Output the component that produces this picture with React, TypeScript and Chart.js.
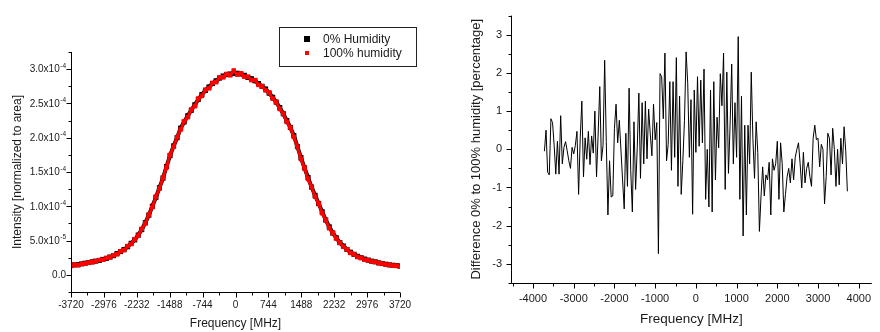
import React, { useEffect, useRef } from 'react';
import { Chart, registerables } from 'chart.js';

Chart.register(...registerables);

// ---------- DATA ----------
// Left chart: intensity (units of 1e-4) vs frequency
const intensityFreqStart = -3720;
const intensityFreqStep = 80;
const intensityDry = [
  0.14, 0.145, 0.15, 0.16, 0.17, 0.18, 0.19, 0.2, 0.21, 0.225,
  0.24, 0.26, 0.28, 0.31, 0.34, 0.37, 0.41, 0.46, 0.51, 0.58,
  0.66, 0.76, 0.87, 1.0, 1.13, 1.27, 1.41, 1.58, 1.74, 1.88,
  2.0, 2.14, 2.23, 2.32, 2.4, 2.48, 2.56, 2.63, 2.69, 2.74,
  2.79, 2.83, 2.87, 2.9, 2.92, 2.93, 2.94, 2.94, 2.93, 2.91,
  2.88, 2.86, 2.83, 2.79, 2.75, 2.71, 2.65, 2.59, 2.52, 2.44,
  2.35, 2.25, 2.15, 2.03, 1.87, 1.71, 1.56, 1.42, 1.28, 1.16,
  1.04, 0.92, 0.8, 0.7, 0.61, 0.54, 0.47, 0.42, 0.37, 0.33,
  0.3, 0.27, 0.25, 0.23, 0.215, 0.2, 0.19, 0.175, 0.165, 0.155,
  0.145, 0.14, 0.135, 0.13,
];
const intensityHumid = [
  0.13, 0.15, 0.14, 0.16, 0.165, 0.18, 0.185, 0.2, 0.215, 0.22,
  0.245, 0.255, 0.285, 0.3, 0.345, 0.36, 0.42, 0.45, 0.52, 0.57,
  0.67, 0.75, 0.88, 0.99, 1.14, 1.26, 1.42, 1.57, 1.75, 1.87,
  2.01, 2.12, 2.24, 2.3, 2.41, 2.46, 2.57, 2.61, 2.7, 2.72,
  2.8, 2.81, 2.88, 2.88, 2.93, 2.91, 2.98, 2.92, 2.94, 2.89,
  2.89, 2.84, 2.84, 2.77, 2.75, 2.69, 2.66, 2.57, 2.52, 2.42,
  2.35, 2.23, 2.15, 2.01, 1.87, 1.69, 1.56, 1.4, 1.28, 1.14,
  1.04, 0.9, 0.8, 0.68, 0.61, 0.53, 0.47, 0.41, 0.37, 0.32,
  0.3, 0.26, 0.25, 0.22, 0.215, 0.195, 0.19, 0.17, 0.165, 0.15,
  0.145, 0.135, 0.135, 0.12,
];
const intensityFreqTicks = [-3720, -2976, -2232, -1488, -744, 0, 744, 1488, 2232, 2976, 3720];
const intensityTicks = [0, 0.5, 1.0, 1.5, 2.0, 2.5, 3.0];

// Right chart: difference (%) vs frequency
const diffFreqStart = -3720;
const diffFreqStep = 40;
const diffValues = [
  -0.05, 0.5, -0.6, -0.67, 0.8, 0.7, 0.1, -0.65, 0.21, -0.65,
  0.88, -0.38, 0.05, 0.2, -0.04, -0.3, -0.5, 0.05, -0.12, 0.1,
  0.47, -1.18, 0.3, 1.26, -0.72, 0.3, -0.26, 0.47, -0.4, 0.35,
  -0.1, 1.0, -0.72, 0.4, 1.64, -0.3, 0.1, 2.33, 0.2, -1.72,
  -0.3, -1.25, -1.22, 0.55, 1.18, 0.17, 0.76, -0.02, -0.8, -1.56,
  0.42, -0.97, 1.6, -0.55, -1.64, 0.72, -1.05, 0.04, 1.47, -0.76,
  1.22, -0.38, 1.26, -0.25, 1.05, 0.4, -0.17, 1.18, 0.25, 0.7,
  -2.73, 1.98, 1.9, 0.8, 2.52, -0.3, 0.13, 1.77, -0.55, 1.77,
  -0.21, 2.4, -0.97, 1.39, -1.18, -0.3, 0.76, 2.55, 1.73, -0.21,
  1.3, -1.7, 1.55, -0.08, 1.9, 0.08, 1.81, 0.17, 2.1, -1.31,
  0.0, -1.51, 1.55, -1.64, 1.77, -0.8, 0.84, 0.04, 1.98, 1.14,
  2.52, -1.05, 2.02, -0.63, 0.63, 2.23, -0.38, 1.22, -0.21, 2.95,
  -1.31, 1.39, -2.27, 0.63, -1.72, 0.63, -0.38, 2.02, 0.29, -0.76,
  0.72, -0.08, -2.15, -1.22, -0.46, -1.22, -0.67, -0.8, -0.34, -1.72,
  -0.25, -0.55, -0.38, 0.21, -1.31, 0.17, -0.38, -1.64, -1.18, -0.72,
  -0.5, -0.88, -0.25, -0.8, -0.21, 0.0, 0.17, -0.38, -1.01, -0.08,
  -0.88, -0.5, -0.34, -0.72, -0.97, 0.29, 0.63, 0.25, 0.29, -0.46,
  0.13, 0.0, -1.43, -0.72, 0.42, 0.29, -0.67, 0.55, 0.0, -0.97,
  0.0, -0.93, 0.29, -0.38, 0.59, -0.04, -1.1,
];
const diffFreqTicks = [-4000, -3000, -2000, -1000, 0, 1000, 2000, 3000, 4000];
const diffTicks = [-3, -2, -1, 0, 1, 2, 3];

// ---------- HELPERS ----------
const FONT = '"Liberation Sans", Arial, Helvetica, sans-serif';
const TEXT = '#1a1a1a';
Chart.defaults.font.family = FONT;

function withMinors(major: number[], half: number, lo: number, hi: number) {
  const out: { value: number; major: boolean }[] = [];
  const first = major[0] - half;
  for (let v = first; v <= major[major.length - 1] + half + 1e-9; v += half) {
    const val = Math.round(v * 1e6) / 1e6;
    if (val < lo - 1e-9 || val > hi + 1e-9) continue;
    const isMajor = major.some((m) => Math.abs(m - val) < 1e-9);
    out.push({ value: val, major: isMajor });
  }
  return out;
}

const axesPlugin = {
  id: 'originAxes',
  afterDraw(chart: any) {
    const { ctx, chartArea: a, scales } = chart;
    const x = scales.x;
    const y = scales.y;
    ctx.save();
    ctx.strokeStyle = '#000';
    ctx.lineWidth = 1;
    ctx.beginPath();
    const ax = Math.round(a.left) + 0.5;
    const ay = Math.round(a.bottom) + 0.5;
    ctx.moveTo(ax, a.top);
    ctx.lineTo(ax, ay);
    ctx.moveTo(ax, ay);
    ctx.lineTo(a.right, ay);
    for (const t of x.ticks) {
      const px = Math.round(x.getPixelForValue(t.value)) + 0.5;
      const len = t.major ? 5 : 3;
      ctx.moveTo(px, ay);
      ctx.lineTo(px, ay + len);
    }
    for (const t of y.ticks) {
      const py = Math.round(y.getPixelForValue(t.value)) + 0.5;
      const len = t.major ? 5 : 3;
      ctx.moveTo(ax, py);
      ctx.lineTo(ax - len, py);
    }
    ctx.stroke();
    ctx.restore();
  },
};

function intensityLabelParts(v: number): [string, string] {
  if (Math.abs(v) < 1e-9) return ['0.0', ''];
  if (v < 1) return [(v * 10).toFixed(1) + 'x10', '-5'];
  return [v.toFixed(1) + 'x10', '-4'];
}

const intensityLabelPlugin = {
  id: 'intensityLabels',
  afterDraw(chart: any) {
    const { ctx, chartArea: a, scales } = chart;
    const y = scales.y;
    const right = a.left - 5;
    ctx.save();
    ctx.fillStyle = TEXT;
    ctx.textAlign = 'left';
    for (const t of y.ticks) {
      if (!t.major) continue;
      const py = y.getPixelForValue(t.value);
      const [main, sup] = intensityLabelParts(t.value);
      ctx.font = `6.5px ${FONT}`;
      const supW = sup ? ctx.measureText(sup).width : 0;
      ctx.font = `10px ${FONT}`;
      const mainW = ctx.measureText(main).width;
      ctx.textBaseline = 'middle';
      const x0 = right - supW - mainW - (sup ? 0.5 : 0);
      ctx.fillText(main, x0, py + 0.5);
      if (sup) {
        ctx.font = `6.5px ${FONT}`;
        ctx.textBaseline = 'alphabetic';
        ctx.fillText(sup, x0 + mainW + 0.5, py - 1.5);
      }
    }
    ctx.restore();
  },
};

const legendPlugin = {
  id: 'boxLegend',
  afterDraw(chart: any) {
    const { ctx } = chart;
    ctx.save();
    ctx.strokeStyle = '#222';
    ctx.lineWidth = 1;
    ctx.strokeRect(279.5, 27.5, 137, 39);
    ctx.fillStyle = '#000';
    ctx.fillRect(304, 36, 6, 6);
    ctx.fillStyle = '#ff0000';
    ctx.fillRect(305, 51, 4, 4);
    ctx.fillStyle = TEXT;
    ctx.font = `12px ${FONT}`;
    ctx.textBaseline = 'middle';
    ctx.textAlign = 'left';
    ctx.fillText(chart.data.datasets[1].label, 323, 39.5);
    ctx.fillText(chart.data.datasets[0].label, 323, 53.5);
    ctx.restore();
  },
};

function LeftChart() {
  const ref = useRef<HTMLCanvasElement>(null);
  useEffect(() => {
    const freqs = intensityDry.map((_, i) => intensityFreqStart + i * intensityFreqStep);
    const xTicks = withMinors(intensityFreqTicks, 372, -3720, 3720);
    const yTicks = withMinors(intensityTicks, 0.25, -0.25, 3.25);
    const chart = new Chart(ref.current!, {
      type: 'scatter',
      data: {
        datasets: [
          {
            label: '100% humidity',
            data: freqs.map((f, i) => ({ x: f, y: intensityHumid[i] })),
            showLine: true,
            borderColor: '#ff0000',
            borderWidth: 3,
            backgroundColor: '#ff0000',
            pointStyle: 'rect',
            pointRadius: 3.2,
            pointBorderWidth: 0,
            order: 0,
          },
          {
            label: '0% Humidity',
            data: freqs.map((f, i) => ({ x: f, y: intensityDry[i] })),
            showLine: true,
            borderColor: '#000',
            borderWidth: 4,
            backgroundColor: '#000',
            pointStyle: 'rect',
            pointRadius: 3.6,
            pointBorderWidth: 0,
            order: 1,
          },
        ],
      },
      options: {
        animation: false,
        responsive: false,
        events: [],
        layout: { padding: { top: 52, right: 40, left: 0, bottom: 0 } },
        plugins: { legend: { display: false }, tooltip: { enabled: false } },
        scales: {
          x: {
            type: 'linear',
            min: -3720,
            max: 3720,
            afterBuildTicks: (s: any) => { s.ticks = xTicks.map((t) => ({ ...t })); },
            afterFit: (s: any) => { s.height = 40; },
            grid: { display: false, drawTicks: false },
            border: { display: false },
            ticks: {
              autoSkip: false,
              maxRotation: 0,
              padding: 7,
              color: TEXT,
              font: { size: 10 },
              callback: (v: any, i: number, ts: any[]) => (ts[i].major ? String(v) : ''),
            },
            title: {
              display: true,
              text: 'Frequency [MHz]',
              color: TEXT,
              font: { size: 12 },
              padding: { top: 0, bottom: 1 },
            },
          },
          y: {
            type: 'linear',
            min: -0.25,
            max: 3.25,
            afterBuildTicks: (s: any) => { s.ticks = yTicks.map((t) => ({ ...t })); },
            afterFit: (s: any) => { s.width = 71; },
            grid: { display: false, drawTicks: false },
            border: { display: false },
            ticks: {
              autoSkip: false,
              padding: 5,
              color: TEXT,
              font: { size: 10 },
              callback: () => '',
            },
            title: {
              display: true,
              text: 'Intensity [normalized to area]',
              color: TEXT,
              font: { size: 12 },
              padding: { top: 10, bottom: 0 },
            },
          },
        },
      },
      plugins: [axesPlugin, intensityLabelPlugin, legendPlugin],
    } as any);
    return () => chart.destroy();
  }, []);
  return <canvas ref={ref} width={440} height={332} style={{ display: 'block' }} />;
}

function RightChart() {
  const ref = useRef<HTMLCanvasElement>(null);
  useEffect(() => {
    const freqs = diffValues.map((_, i) => diffFreqStart + i * diffFreqStep);
    const xTicks = withMinors(diffFreqTicks, 500, -4540, 4320);
    const yTicks = withMinors(diffTicks, 0.5, -3.5, 3.5);
    const chart = new Chart(ref.current!, {
      type: 'scatter',
      data: {
        datasets: [
          {
            label: 'Difference',
            data: freqs.map((f, i) => ({ x: f, y: diffValues[i] })),
            showLine: true,
            borderColor: '#000',
            borderWidth: 1,
            pointRadius: 0,
          },
        ],
      },
      options: {
        animation: false,
        responsive: false,
        events: [],
        layout: { padding: { top: 6, right: 0, left: 0, bottom: 0 } },
        plugins: { legend: { display: false }, tooltip: { enabled: false } },
        scales: {
          x: {
            type: 'linear',
            min: -4540,
            max: 4320,
            afterBuildTicks: (s: any) => { s.ticks = xTicks.map((t) => ({ ...t })); },
            afterFit: (s: any) => { s.height = 49; },
            grid: { display: false, drawTicks: false },
            border: { display: false },
            ticks: {
              autoSkip: false,
              maxRotation: 0,
              padding: 9,
              color: TEXT,
              font: { size: 11 },
              callback: (v: any, i: number, ts: any[]) => (ts[i].major ? String(v) : ''),
            },
            title: {
              display: true,
              text: 'Frequency [MHz]',
              color: TEXT,
              font: { size: 13.5 },
              padding: { top: 0, bottom: 5 },
            },
          },
          y: {
            type: 'linear',
            min: -3.5,
            max: 3.5,
            afterBuildTicks: (s: any) => { s.ticks = yTicks.map((t) => ({ ...t })); },
            afterFit: (s: any) => { s.width = 71; },
            grid: { display: false, drawTicks: false },
            border: { display: false },
            ticks: {
              autoSkip: false,
              padding: 9,
              color: TEXT,
              font: { size: 11 },
              callback: (v: any, i: number, ts: any[]) => (ts[i].major ? String(v) : ''),
            },
            title: {
              display: true,
              text: 'Difference 0% to 100% humidity [percentage]',
              color: TEXT,
              font: { size: 13 },
              padding: { top: 29, bottom: 0 },
            },
          },
        },
      },
      plugins: [axesPlugin],
    } as any);
    return () => chart.destroy();
  }, []);
  return <canvas ref={ref} width={440} height={332} style={{ display: 'block' }} />;
}

export default function App() {
  return (
    <div style={{ position: 'fixed', left: 0, top: 0, width: 880, height: 332, background: '#fff', overflow: 'hidden' }}>
      <div style={{ position: 'absolute', left: 0, top: 0 }}>
        <LeftChart />
      </div>
      <div style={{ position: 'absolute', left: 440, top: 0 }}>
        <RightChart />
      </div>
    </div>
  );
}
